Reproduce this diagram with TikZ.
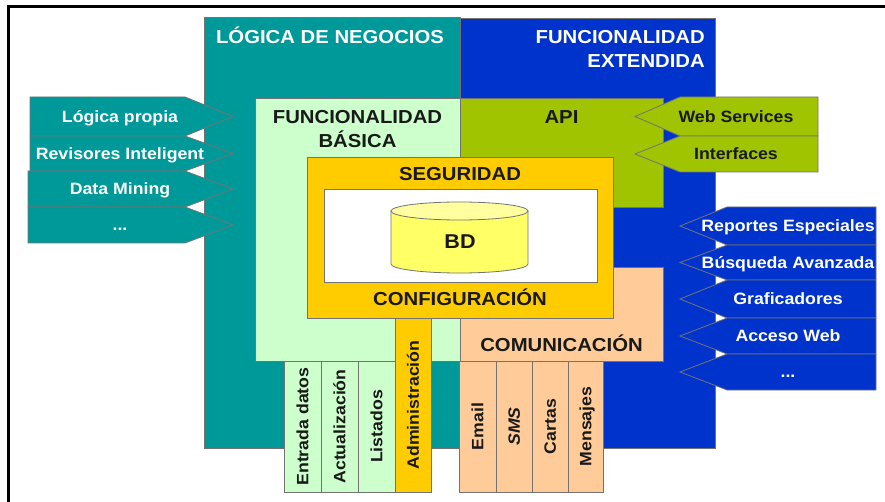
\documentclass[tikz,border=0pt]{standalone}
\usepackage{fontspec}
\setmainfont{Liberation Sans}[FakeStretch=1.08]
\usetikzlibrary{positioning}

\definecolor{tealc}{RGB}{0,153,153}
\definecolor{bluec}{RGB}{0,51,204}
\definecolor{basicac}{RGB}{204,255,204}
\definecolor{apic}{RGB}{160,196,0}
\definecolor{segc}{RGB}{255,204,0}
\definecolor{comc}{RGB}{255,204,153}
\definecolor{bdc}{RGB}{255,255,102}
\definecolor{bdtopc}{RGB}{255,255,160}

\newcommand{\boxtitlefont}{\fontsize{18.8}{22}\selectfont\bfseries}
\newcommand{\boxitemfont}{\fontsize{16.4}{19}\selectfont\bfseries}

\begin{document}
\begin{tikzpicture}[x=1pt, y=-1pt,
        box/.style={draw=black!55, line width=0.8pt},
        title_light/.style={inner sep=0pt, text height=13.5pt, text depth=0pt, font=\boxtitlefont, text=white},
        title_dark/.style={inner sep=0pt, text height=13.5pt, text depth=0pt, font=\boxtitlefont, text=black!90},
        item_light/.style={inner sep=0pt, text height=11.8pt, text depth=0pt, font=\boxitemfont, text=white},
        item_dark/.style={inner sep=0pt, text height=11.8pt, text depth=0pt, font=\boxitemfont, text=black!90},
        strip_label/.style={item_dark, rotate=90}
        ]
            \useasboundingbox (0,0) rectangle (885,502);
            % frame
            \draw[black, line width=3.2pt] (8.3,502) -- (8.3,6.7) -- (885,6.7);

            % Areas
            \filldraw[box, fill=tealc] (204,17) rectangle (460,448);
            \filldraw[box, fill=bluec] (460,18) rectangle (715,448);

            % arrows into logica de negocios
            \filldraw[box, fill=tealc] (30,97) -- (185,97) -- (233,116.5) -- (185,136) -- (30,136) -- cycle;
            \filldraw[box, fill=tealc] (30,136) -- (185,136) -- (233,153.5) -- (185,171) -- (30,171) -- cycle;
            \filldraw[box, fill=tealc] (28,171) -- (185,171) -- (233,189) -- (185,207) -- (28,207) -- cycle;
            \filldraw[box, fill=tealc] (28,207) -- (185,207) -- (233,225) -- (185,243) -- (28,243) -- cycle;

            % inner boxes
            \filldraw[box, fill=basicac] (255,98) rectangle (460,361);
            \filldraw[box, fill=apic] (460,98) rectangle (663,207);
            \filldraw[box, fill=comc] (460,267) rectangle (663,361);

            % arrows into api
            \filldraw[box, fill=apic] (818,97) -- (680,97) -- (635,116.5) -- (680,136) -- (818,136) -- cycle;
            \filldraw[box, fill=apic] (818,136) -- (680,136) -- (635,154) -- (680,172) -- (818,172) -- cycle;

            % arrows into funcionalidad extendida
            \filldraw[box, fill=bluec] (876,207) -- (727,207) -- (680,226) -- (727,245) -- (876,245) -- cycle;
            \filldraw[box, fill=bluec] (876,245) -- (727,245) -- (680,262.5) -- (727,280) -- (876,280) -- cycle;
            \filldraw[box, fill=bluec] (876,280) -- (727,280) -- (680,299) -- (727,318) -- (876,318) -- cycle;
            \filldraw[box, fill=bluec] (876,318) -- (727,318) -- (680,336) -- (727,354) -- (876,354) -- cycle;
            \filldraw[box, fill=bluec] (876,354) -- (727,354) -- (680,372) -- (727,390) -- (876,390) -- cycle;

            % seguridad + BD
            \filldraw[box, fill=segc] (307,157) rectangle (613,318);
            \filldraw[box, fill=white] (324,189) rectangle (597,282);
            \filldraw[box, fill=bdc] (391,211) -- (391,264) arc[start angle=180, end angle=360, x radius=68.5pt, y radius=9pt] -- (528,211) -- cycle;
            \filldraw[box, fill=bdtopc] (459.5,211) ellipse[x radius=68.5pt, y radius=9pt];

            % strips
            \filldraw[box, fill=basicac] (284,361) rectangle (321,492);
            \filldraw[box, fill=basicac] (321,361) rectangle (358,492);
            \filldraw[box, fill=basicac] (358,361) rectangle (395,492);
            \filldraw[box, fill=segc] (395,318) rectangle (431,492);
            \filldraw[box, fill=comc] (459,361) rectangle (496,492);
            \filldraw[box, fill=comc] (496,361) rectangle (532,492);
            \filldraw[box, fill=comc] (532,361) rectangle (568,492);
            \filldraw[box, fill=comc] (568,361) rectangle (603,492);

            % titles
            \node[title_light] (logica_title) at (330,37) {LÓGICA DE NEGOCIOS};
            \node[title_light, anchor=east] (extendida_1) at (705,36.6) {FUNCIONALIDAD};
            \node[title_light] (extendida_2) [below left = 10.5pt and 0pt of extendida_1.south east] {EXTENDIDA};
            \node[title_dark] (basica_1) at (357.5,116.6) {FUNCIONALIDAD};
            \node[title_dark] (basica_2) [below = 10.5pt of basica_1] {BÁSICA};
            \node[title_dark] (api_title) at (561.5,116.6) {API};
            \node[title_dark] (seg_title) at (460,174) {SEGURIDAD};
            \node[title_dark] (conf_title) at (460,298.3) {CONFIGURACIÓN};
            \node[title_dark, font=\fontsize{20}{24}\selectfont\bfseries, text height=14.3pt] (bd_title) at (460,241) {BD};
            \node[title_dark] (com_title) at (561.5,344.3) {COMUNICACIÓN};

            % text
            \node[item_light] (logica_1) at (120,116.5) {Lógica propia};
            \node[item_light] (logica_2) at (120,153.5) {Revisores Inteligent};
            \node[item_light] (logica_3) at (120,189) {Data Mining};
            \node[item_light] (logica_4) at (120,225) {...};
            \node[item_dark] (api_1) at (736,116.5) {Web Services};
            \node[item_dark] (api_2) at (736,154) {Interfaces};
            \node[item_light] (ext_1) at (788,226) {Reportes Especiales};
            \node[item_light] (ext_2) at (788,262.5) {Búsqueda Avanzada};
            \node[item_light] (ext_3) at (788,299) {Graficadores};
            \node[item_light] (ext_4) at (788,336) {Acceso Web};
            \node[item_light] (ext_5) at (788,372) {...};
            \node[strip_label] (strip_1) at (302.5,426.5) {Entrada datos};
            \node[strip_label] (strip_2) at (339.5,426.5) {Actualización};
            \node[strip_label] (strip_3) at (376.5,426.5) {Listados};
            \node[strip_label] (strip_4) at (413,405) {Administración};
            \node[strip_label] (strip_5) at (477.5,426.5) {Email};
            \node[strip_label, font=\boxitemfont\itshape] (strip_6) at (514,426.5) {SMS};
            \node[strip_label] (strip_7) at (550,426.5) {Cartas};
            \node[strip_label] (strip_8) at (585.5,426.5) {Mensajes};
        \end{tikzpicture}
\end{document}
